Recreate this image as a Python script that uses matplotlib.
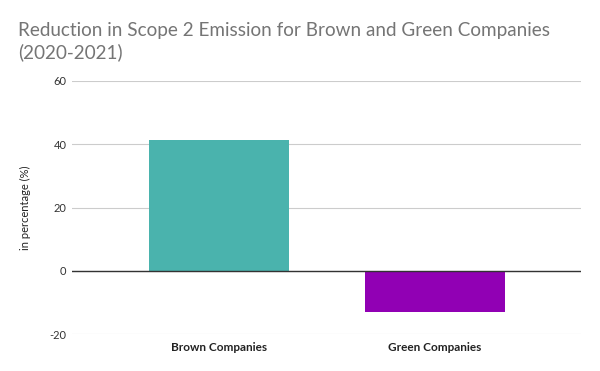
import matplotlib
matplotlib.use("Agg")
import matplotlib.pyplot as plt

categories = ["Brown Companies", "Green Companies"]
values = [41.3, -12.9]
colors = ["#4ab3ad", "#9100b4"]
yticks = [-20, 0, 20, 40, 60]

plt.rcParams['font.family'] = ['Lato', 'DejaVu Sans']
fig = plt.figure(figsize=(6, 3.71), dpi=100)
ax = fig.add_axes([0.12, 0.0997, 0.848, 0.682])
x = list(range(len(categories)))
ax.bar(x, values, width=0.65, color=colors, zorder=3)
ax.set_xlim(-0.68, 1.675)
ax.set_ylim(-20, 60)
ax.set_yticks(yticks)
ax.set_yticklabels([str(t) for t in yticks], fontsize=8, color="#333333")
ax.set_xticks(x)
ax.set_xticklabels(categories, fontsize=8.5, color="#222222", fontweight="bold")
ax.tick_params(axis='y', length=0, pad=4)
ax.tick_params(axis='x', length=0, pad=6)
ax.grid(axis='y', color="#cccccc", linewidth=0.8, zorder=0)
ax.axhline(0, color="#333333", linewidth=1, zorder=4)
for s in ax.spines.values():
    s.set_visible(False)
ax.set_ylabel("in percentage (%)", fontsize=8, color="#222222", labelpad=13)
fig.text(0.03, 0.94, "Reduction in Scope 2 Emission for Brown and Green Companies\n(2020-2021)",
         fontsize=13.6, color="#757575", va="top", ha="left", linespacing=1.3)
fig.savefig("out.png", dpi=100)
